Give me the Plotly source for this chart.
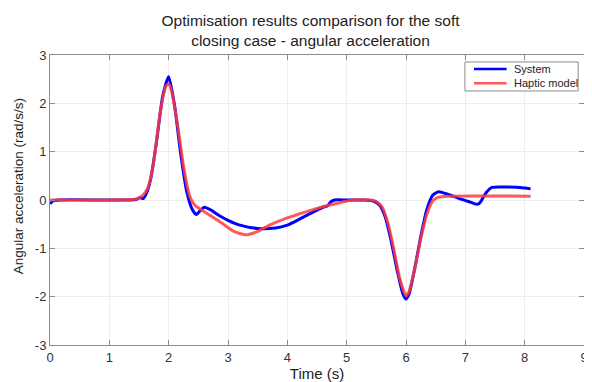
import plotly.graph_objects as go

sys_t = [0, 0.05, 0.15, 1.0, 1.45, 1.52, 1.57, 1.63, 1.7, 1.8, 1.9, 2.0, 2.1, 2.2, 2.3, 2.4, 2.47,
         2.53, 2.6, 2.7, 2.85, 3.0, 3.2, 3.5, 3.8, 4.0, 4.2, 4.4, 4.6, 4.68, 4.73, 4.8, 5.0, 5.3,
         5.45, 5.55, 5.65, 5.75, 5.85, 5.95, 6.0, 6.05, 6.15, 6.25, 6.35, 6.45, 6.55, 6.7, 6.9,
         7.1, 7.2, 7.25, 7.35, 7.45, 7.6, 8.0, 8.1]
sys_a = [-0.08, -0.02, 0.0, 0.0, 0.01, 0.05, 0.03, 0.15, 0.45, 1.25, 2.15, 2.55, 1.95, 0.98, 0.2,
         -0.2, -0.3, -0.22, -0.15, -0.2, -0.32, -0.42, -0.52, -0.59, -0.58, -0.52, -0.4, -0.27,
         -0.15, -0.12, -0.04, 0.0, 0.0, 0.0, -0.02, -0.1, -0.35, -0.85, -1.45, -1.95, -2.05,
         -1.95, -1.4, -0.75, -0.2, 0.1, 0.17, 0.12, 0.03, -0.05, -0.09, -0.05, 0.15, 0.26, 0.27,
         0.25, 0.23]

hap_t = [0, 1.0, 1.45, 1.55, 1.65, 1.75, 1.85, 1.95, 2.0, 2.05, 2.15, 2.25, 2.35, 2.45, 2.55,
         2.7, 2.9, 3.1, 3.3, 3.5, 3.7, 4.0, 4.3, 4.6, 4.9, 5.1, 5.4, 5.5, 5.6, 5.7, 5.8, 5.9,
         6.0, 6.05, 6.15, 6.25, 6.35, 6.45, 6.55, 6.7, 8.1]
hap_a = [0.0, 0.0, 0.02, 0.08, 0.25, 0.8, 1.75, 2.35, 2.4, 2.25, 1.55, 0.7, 0.1, -0.12, -0.2,
         -0.32, -0.48, -0.65, -0.72, -0.65, -0.52, -0.37, -0.25, -0.14, -0.05, 0.0, 0.0, -0.03,
         -0.15, -0.5, -1.05, -1.65, -1.98, -1.9, -1.4, -0.8, -0.3, -0.02, 0.06, 0.08, 0.08]

series_names = ["System", "Haptic model"]
x_ticks = [0, 1, 2, 3, 4, 5, 6, 7, 8, 9]
x_tick_labels = ["0", "1", "2", "3", "4", "5", "6", "7", "8", "9"]
y_ticks = [-3, -2, -1, 0, 1, 2, 3]
y_tick_labels = ["-3", "-2", "-1", "0", "1", "2", "3"]

FONT = "Liberation Sans, Arial"
BLUE = "#0000ff"
RED = "rgba(255,60,60,0.85)"
GRAY = "#8c8c8c"

fig = go.Figure()
fig.add_trace(go.Scatter(x=sys_t, y=sys_a, mode="lines", name=series_names[0],
                         line=dict(color=BLUE, width=3, shape="spline", smoothing=0.6)))
fig.add_trace(go.Scatter(x=hap_t, y=hap_a, mode="lines", name=series_names[1],
                         line=dict(color=RED, width=3, shape="spline", smoothing=0.6)))

axis_common = dict(showgrid=True, gridcolor="#ececec", gridwidth=1, zeroline=False,
                   showline=True, linecolor=GRAY, linewidth=1, mirror="ticks",
                   ticks="inside", ticklen=5, tickcolor=GRAY,
                   tickfont=dict(family=FONT, size=13, color="#333333"))

# legend box drawn in paper coordinates (MATLAB-style compact legend)
shapes = [
    dict(type="rect", xref="paper", yref="paper", x0=0.777, x1=0.989, y0=0.876, y1=0.976,
         line=dict(color=GRAY, width=1), fillcolor="white", layer="above"),
    dict(type="line", xref="paper", yref="paper", x0=0.794, x1=0.855, y0=0.952, y1=0.952,
         line=dict(color=BLUE, width=2.5), layer="above"),
    dict(type="line", xref="paper", yref="paper", x0=0.794, x1=0.855, y0=0.903, y1=0.903,
         line=dict(color=RED, width=2.5), layer="above"),
]
annotations = [
    dict(text=series_names[0], xref="paper", yref="paper", x=0.866, y=0.952,
         xanchor="left", yanchor="middle", showarrow=False,
         font=dict(family=FONT, size=11, color="#222222")),
    dict(text=series_names[1], xref="paper", yref="paper", x=0.866, y=0.903,
         xanchor="left", yanchor="middle", showarrow=False,
         font=dict(family=FONT, size=11, color="#222222")),
    dict(text="Angular acceleration (rad/s/s)", xref="paper", yref="paper",
         x=-0.0595, y=0.548, xanchor="center", yanchor="middle", textangle=-90,
         showarrow=False, font=dict(family=FONT, size=13.5, color="#222222")),
]

fig.update_layout(
    width=584, height=374,
    margin=dict(l=42, r=4, t=47, b=37),
    paper_bgcolor="white", plot_bgcolor="white",
    title=dict(text="Optimisation results comparison for the soft<br>closing case - angular acceleration",
               x=0.518, xanchor="center", y=0.953, yanchor="top",
               font=dict(family=FONT, size=15.5, color="#222222")),
    xaxis=dict(range=[0, 9], tickvals=x_ticks, ticktext=x_tick_labels,
               title=dict(text="Time (s)", standoff=3,
                          font=dict(family=FONT, size=15, color="#222222")),
               **axis_common),
    yaxis=dict(range=[-3, 3], tickvals=y_ticks, ticktext=y_tick_labels, **axis_common),
    shapes=shapes,
    annotations=annotations,
    showlegend=False,
)

fig.write_html("out.html")
